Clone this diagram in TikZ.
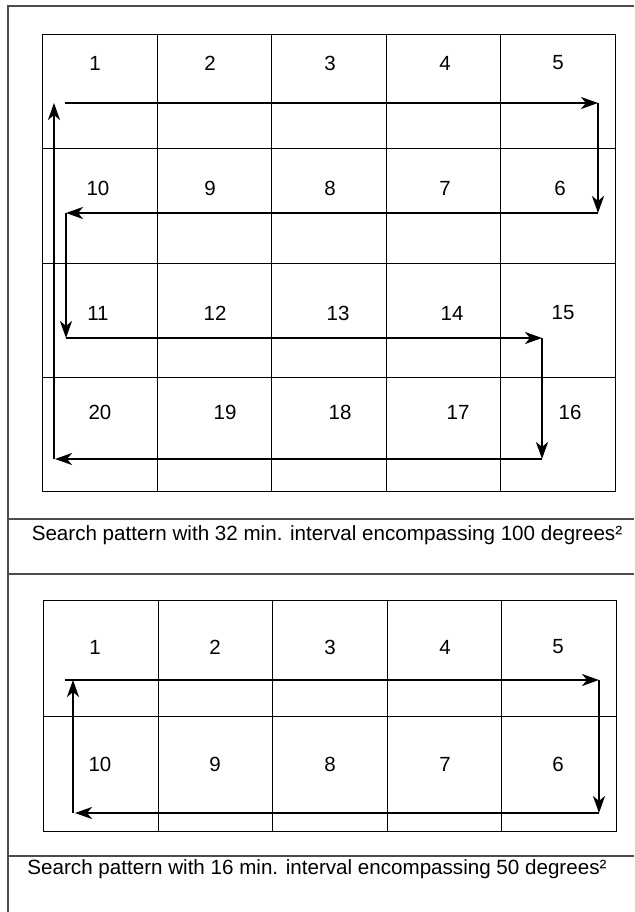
\documentclass[tikz,border=0pt]{standalone}
\usepackage{fontspec}
\setmainfont{Liberation Sans}
\usetikzlibrary{arrows.meta}
\begin{document}
\begin{tikzpicture}[x=1pt,y=-1pt,
  frame/.style={line width=1.4pt, draw=black!70},
  gridline/.style={line width=0.8pt, draw=black},
  route/.style={line width=2.5pt, draw=black, -{Stealth[length=17pt,width=12pt,inset=5pt]}},
  num/.style={font=\fontsize{20.5}{22}\selectfont, inner sep=0pt},
  captext/.style={font=\fontsize{20.6}{22}\selectfont, inner sep=0pt}]
\useasboundingbox (0,0) rectangle (634,912);
\fill[white] (0,0) rectangle (634,912);
% outer frame
\draw[frame] (634,6) -- (8,6) -- (8,912);
\draw[frame] (8,519) -- (634,519);
\draw[frame] (8,574) -- (634,574);
\draw[frame] (8,856) -- (634,856);
% grid 1
\draw[gridline] (42,34) rectangle (615,491);
\foreach \x in {157,271,386,500} \draw[gridline] (\x,34) -- (\x,491);
\foreach \y in {148,263,377} \draw[gridline] (42,\y) -- (615,\y);
% grid 2
\draw[gridline] (43,600) rectangle (616,831);
\foreach \x in {158,272,387,501} \draw[gridline] (\x,600) -- (\x,831);
\draw[gridline] (43,716) -- (616,716);
% numbers grid 1
\node[num] (n1) at (95,63) {1};
\node[num] (n2) at (210,63) {2};
\node[num] (n3) at (330,63) {3};
\node[num] (n4) at (445,63) {4};
\node[num] (n5) at (558,63) {5};
\node[num] (n10) at (98,188) {10};
\node[num] (n9) at (210,188) {9};
\node[num] (n8) at (330,188) {8};
\node[num] (n7) at (445,188) {7};
\node[num] (n6) at (560,188) {6};
\node[num] (n11) at (98,313) {11};
\node[num] (n12) at (215,313) {12};
\node[num] (n13) at (338,313) {13};
\node[num] (n14) at (452,313) {14};
\node[num] (n15) at (563,313) {15};
\node[num] (n20) at (100,412) {20};
\node[num] (n19) at (225,412) {19};
\node[num] (n18) at (340,412) {18};
\node[num] (n17) at (458,412) {17};
\node[num] (n16) at (570,412) {16};
% route grid 1
\coordinate (a0) at (65,103);
\coordinate (a1) at (598,103);
\coordinate (a2) at (598,213);
\coordinate (a3) at (66,213);
\coordinate (a4) at (66,338);
\coordinate (a5) at (542,338);
\coordinate (a6) at (542,459);
\coordinate (a7) at (55,459);
\coordinate (a8) at (54,459);
\coordinate (a9) at (54,103);
\draw[route] (a0) -- (a1);
\draw[route] (a1) -- (a2);
\draw[route] (a2) -- (a3);
\draw[route] (a3) -- (a4);
\draw[route] (a4) -- (a5);
\draw[route] (a5) -- (a6);
\draw[route] (a6) -- (a7);
\draw[route] (a8) -- (a9);
% caption 1
\node[captext] (cap1) at (327,535) {Search pattern with 32 min. interval encompassing 100 degrees²};
% numbers grid 2
\node[num] (m1) at (95,647) {1};
\node[num] (m2) at (215,647) {2};
\node[num] (m3) at (330,647) {3};
\node[num] (m4) at (445,647) {4};
\node[num] (m5) at (558,647) {5};
\node[num] (m10) at (100,764) {10};
\node[num] (m9) at (215,764) {9};
\node[num] (m8) at (330,764) {8};
\node[num] (m7) at (445,764) {7};
\node[num] (m6) at (558,764) {6};
% route grid 2
\coordinate (b0) at (65,680);
\coordinate (b1) at (599,680);
\coordinate (b2) at (599,813);
\coordinate (b3) at (75,813);
\coordinate (b4) at (73,813);
\coordinate (b5) at (73,680);
\draw[route] (b0) -- (b1);
\draw[route] (b1) -- (b2);
\draw[route] (b2) -- (b3);
\draw[route] (b4) -- (b5);
% caption 2
\node[captext] (cap2) at (317,869) {Search pattern with 16 min. interval encompassing 50 degrees²};
\end{tikzpicture}
\end{document}
